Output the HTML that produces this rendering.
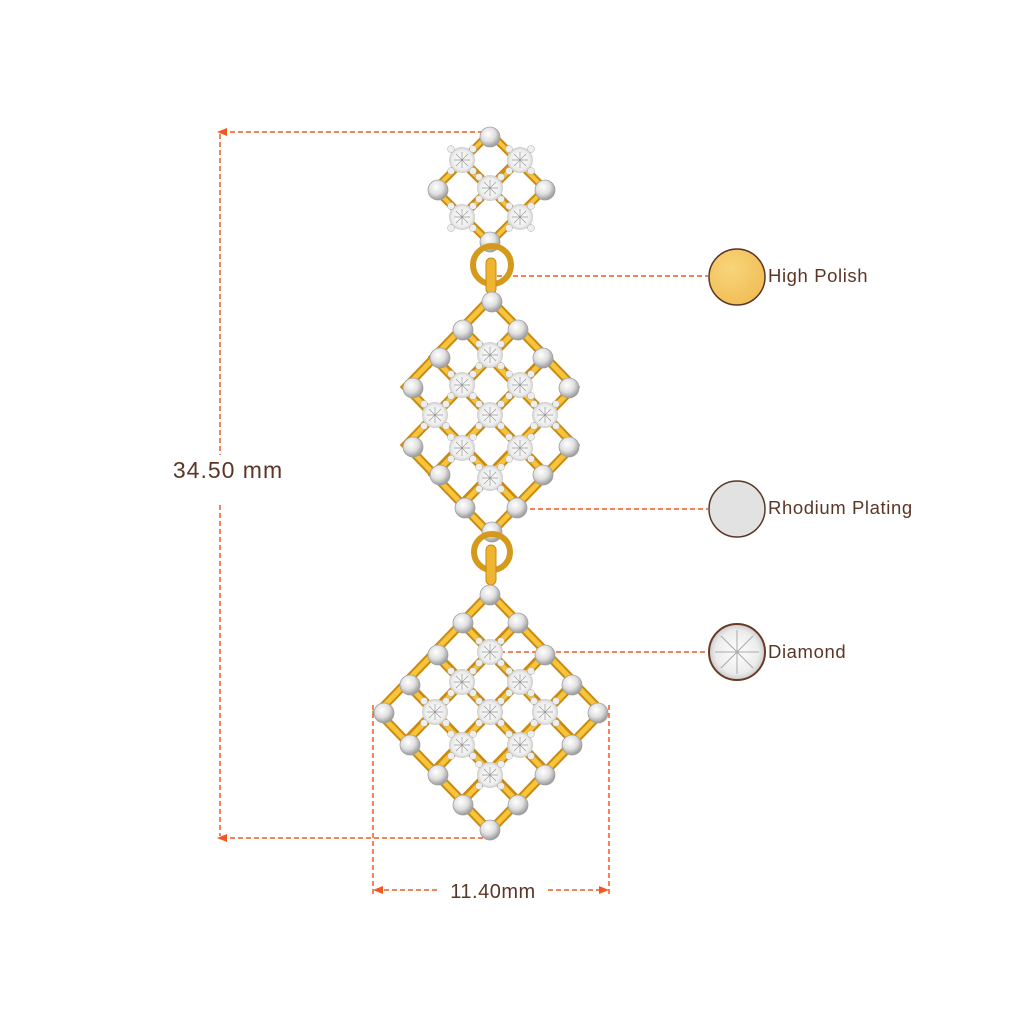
<!DOCTYPE html>
<html><head><meta charset="utf-8"><style>
html,body{margin:0;padding:0;background:#fff;}
svg{display:block}
text{font-family:"Liberation Sans",sans-serif;fill:#5b3626;}
</style></head><body>
<svg width="1024" height="1024" viewBox="0 0 1024 1024" xmlns="http://www.w3.org/2000/svg">
<defs>
<radialGradient id="ball" cx="40%" cy="35%" r="65%">
<stop offset="0" stop-color="#ffffff"/><stop offset="0.55" stop-color="#e0e0e0"/><stop offset="1" stop-color="#9a9a9a"/></radialGradient>
<radialGradient id="dia" cx="50%" cy="50%" r="55%">
<stop offset="0" stop-color="#ffffff"/><stop offset="0.7" stop-color="#ececec"/><stop offset="1" stop-color="#bdbdbd"/></radialGradient>
<radialGradient id="gold" cx="40%" cy="35%" r="70%">
<stop offset="0" stop-color="#f8d57a"/><stop offset="1" stop-color="#f0bd55"/></radialGradient>
<g id="cell"><path d="M0,-29 L28,0 L0,29 L-28,0 Z" fill="none" stroke="#c98a12" stroke-width="9"/><path d="M0,-29 L28,0 L0,29 L-28,0 Z" fill="none" stroke="#f7c43a" stroke-width="5"/></g>
<g id="scell"><path d="M0,-27 L27,0 L0,27 L-27,0 Z" fill="none" stroke="#c98a12" stroke-width="8"/><path d="M0,-27 L27,0 L0,27 L-27,0 Z" fill="none" stroke="#f7c43a" stroke-width="4"/></g>
<g id="b"><circle r="10" fill="url(#ball)" stroke="#a0a0a0" stroke-width="0.8"/></g>
<g id="d"><circle r="13" fill="url(#dia)"/><circle cx="-11" cy="-11" r="3.5" fill="#eee" stroke="#aaa" stroke-width="0.5"/><circle cx="11" cy="-11" r="3.5" fill="#eee" stroke="#aaa" stroke-width="0.5"/><circle cx="-11" cy="11" r="3.5" fill="#eee" stroke="#aaa" stroke-width="0.5"/><circle cx="11" cy="11" r="3.5" fill="#eee" stroke="#aaa" stroke-width="0.5"/><path d="M-8,0 L8,0 M0,-8 L0,8 M-6,-6 L6,6 M6,-6 L-6,6" stroke="#999" stroke-width="0.7"/></g>
</defs>

<g stroke="#f05a22" stroke-width="1.5" stroke-dasharray="5,3" fill="none">
<line x1="222" y1="132" x2="492" y2="132"/>
<line x1="222" y1="838" x2="492" y2="838"/>
<line x1="220" y1="134" x2="220" y2="455"/>
<line x1="220" y1="505" x2="220" y2="836"/>
<line x1="373" y1="705" x2="373" y2="896"/>
<line x1="609" y1="705" x2="609" y2="896"/>
<line x1="376" y1="890" x2="438" y2="890"/>
<line x1="548" y1="890" x2="606" y2="890"/>
<line x1="497" y1="276" x2="708" y2="276"/>
<line x1="522" y1="509" x2="708" y2="509"/>
<line x1="492" y1="652" x2="708" y2="652"/>
</g>
<g fill="#f05a22">
<path d="M217,132 L227,128 L227,136 Z"/>
<path d="M217,838 L227,834 L227,842 Z"/>
<path d="M373,890 L383,886 L383,894 Z"/>
<path d="M609,890 L599,886 L599,894 Z"/>
</g>
<text x="228" y="478" font-size="23" letter-spacing="1" text-anchor="middle">34.50 mm</text>
<text x="493" y="898" font-size="20" letter-spacing="0.5" text-anchor="middle">11.40mm</text>

<circle cx="737" cy="277" r="28" fill="url(#gold)" stroke="#5b3626" stroke-width="1.5"/>
<text x="768" y="282" font-size="18.5" letter-spacing="0.6">High Polish</text>
<circle cx="737" cy="509" r="28" fill="#e2e2e2" stroke="#5b3626" stroke-width="1.5"/>
<text x="768" y="514" font-size="18.5" letter-spacing="0.6">Rhodium Plating</text>
<circle cx="737" cy="652" r="28" fill="url(#dia)" stroke="#6b3a26" stroke-width="2"/>
<path d="M715,652 L759,652 M737,630 L737,674 M721,636 L753,668 M753,636 L721,668" stroke="#aaa" stroke-width="1"/>
<text x="768" y="658" font-size="18.5" letter-spacing="0.6">Diamond</text>

<g>
<use href="#scell" x="490" y="160"/>
<use href="#scell" x="462" y="189"/><use href="#scell" x="518" y="189"/>
<use href="#scell" x="490" y="216"/>
<use href="#d" x="462" y="160"/><use href="#d" x="520" y="160"/>
<use href="#d" x="490" y="188"/>
<use href="#d" x="462" y="217"/><use href="#d" x="520" y="217"/>
<use href="#b" x="490" y="137"/><use href="#b" x="438" y="190"/><use href="#b" x="545" y="190"/><use href="#b" x="490" y="242"/>
</g>
<circle cx="492" cy="265" r="19" fill="none" stroke="#d49a1c" stroke-width="6"/>
<rect x="486" y="258" width="10" height="36" rx="5" fill="#f0b530" stroke="#c98a12"/>

<g>
<use href="#cell" x="490" y="328"/>
<use href="#cell" x="462" y="357"/><use href="#cell" x="518" y="357"/>
<use href="#cell" x="434" y="387"/><use href="#cell" x="490" y="387"/><use href="#cell" x="546" y="387"/>
<use href="#cell" x="462" y="416"/><use href="#cell" x="518" y="416"/>
<use href="#cell" x="434" y="445"/><use href="#cell" x="490" y="445"/><use href="#cell" x="546" y="445"/>
<use href="#cell" x="462" y="475"/><use href="#cell" x="518" y="475"/>
<use href="#cell" x="490" y="505"/>
<use href="#d" x="490" y="355"/>
<use href="#d" x="462" y="385"/><use href="#d" x="520" y="385"/>
<use href="#d" x="435" y="415"/><use href="#d" x="490" y="415"/><use href="#d" x="545" y="415"/>
<use href="#d" x="462" y="448"/><use href="#d" x="520" y="448"/>
<use href="#d" x="490" y="478"/>
<use href="#b" x="492" y="302"/><use href="#b" x="463" y="330"/><use href="#b" x="518" y="330"/>
<use href="#b" x="440" y="358"/><use href="#b" x="543" y="358"/>
<use href="#b" x="413" y="388"/><use href="#b" x="569" y="388"/>
<use href="#b" x="413" y="447"/><use href="#b" x="569" y="447"/>
<use href="#b" x="440" y="475"/><use href="#b" x="543" y="475"/>
<use href="#b" x="465" y="508"/><use href="#b" x="517" y="508"/>
<use href="#b" x="492" y="532"/>
</g>
<circle cx="492" cy="552" r="18" fill="none" stroke="#d49a1c" stroke-width="6"/>
<rect x="486" y="545" width="10" height="40" rx="5" fill="#f0b530" stroke="#c98a12"/>

<g>
<use href="#cell" x="490" y="622"/>
<use href="#cell" x="462" y="652"/><use href="#cell" x="518" y="652"/>
<use href="#cell" x="434" y="682"/><use href="#cell" x="490" y="682"/><use href="#cell" x="546" y="682"/>
<use href="#cell" x="406" y="712"/><use href="#cell" x="462" y="712"/><use href="#cell" x="518" y="712"/><use href="#cell" x="574" y="712"/>
<use href="#cell" x="434" y="742"/><use href="#cell" x="490" y="742"/><use href="#cell" x="546" y="742"/>
<use href="#cell" x="462" y="772"/><use href="#cell" x="518" y="772"/>
<use href="#cell" x="490" y="802"/>
<use href="#d" x="490" y="652"/>
<use href="#d" x="462" y="682"/><use href="#d" x="520" y="682"/>
<use href="#d" x="435" y="712"/><use href="#d" x="490" y="712"/><use href="#d" x="545" y="712"/>
<use href="#d" x="462" y="745"/><use href="#d" x="520" y="745"/>
<use href="#d" x="490" y="775"/>
<use href="#b" x="490" y="595"/><use href="#b" x="463" y="623"/><use href="#b" x="518" y="623"/>
<use href="#b" x="438" y="655"/><use href="#b" x="545" y="655"/>
<use href="#b" x="410" y="685"/><use href="#b" x="572" y="685"/>
<use href="#b" x="384" y="713"/><use href="#b" x="598" y="713"/>
<use href="#b" x="410" y="745"/><use href="#b" x="572" y="745"/>
<use href="#b" x="438" y="775"/><use href="#b" x="545" y="775"/>
<use href="#b" x="463" y="805"/><use href="#b" x="518" y="805"/>
<use href="#b" x="490" y="830"/>
</g>
</svg>
</body></html>
